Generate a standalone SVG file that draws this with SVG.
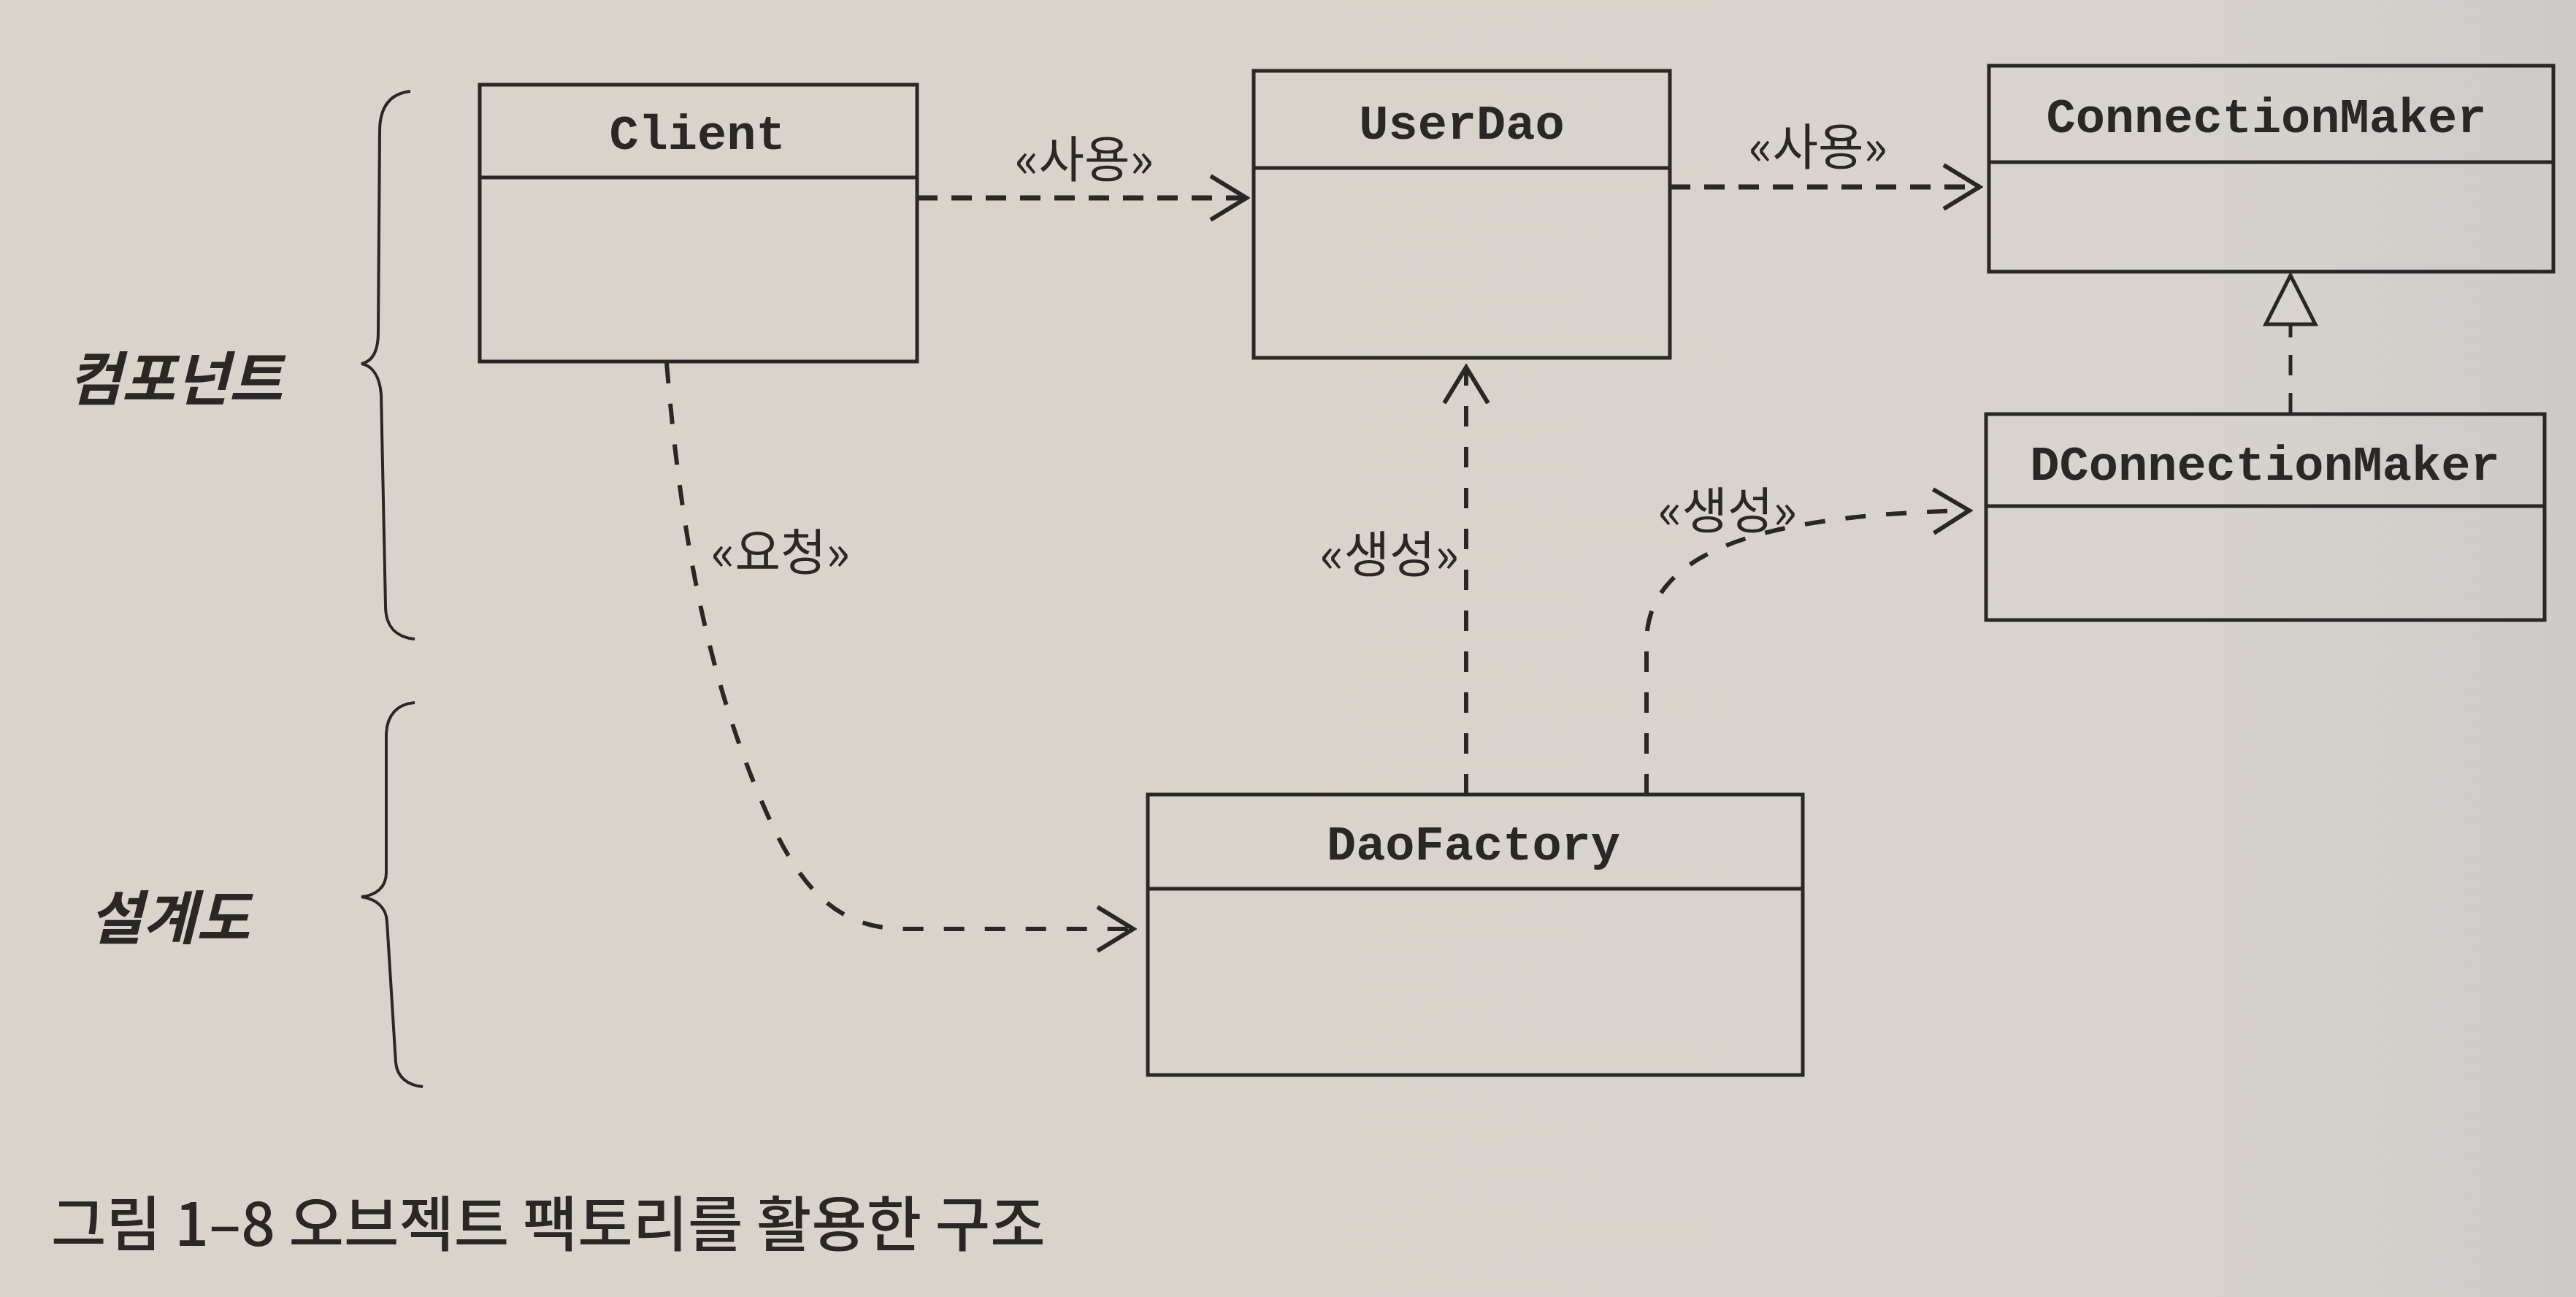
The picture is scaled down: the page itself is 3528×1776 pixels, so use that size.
<svg xmlns="http://www.w3.org/2000/svg" width="3528" height="1776" viewBox="0 0 3528 1776">
<defs>
<linearGradient id="bg" x1="0" y1="0" x2="1" y2="0">
<stop offset="0" stop-color="#d9d3cb"/>
<stop offset="0.85" stop-color="#d8d3cc"/>
<stop offset="1" stop-color="#cdcbc9"/>
</linearGradient>
<marker id="open" viewBox="0 0 60 70" refX="56" refY="35" markerWidth="60" markerHeight="70" markerUnits="userSpaceOnUse" orient="auto">
<path d="M6,5 L55,35 L6,65" fill="none" stroke="#2b2724" stroke-width="6" stroke-linejoin="miter"/>
</marker>
</defs>
<style>
.box{fill:none;stroke:#2b2724;stroke-width:5}
.cls{font-family:"Liberation Mono","DejaVu Sans Mono",monospace;font-weight:bold;font-size:67px;fill:#2b2724;text-anchor:middle}
.lbl{font-family:"Noto Sans CJK KR","Noto Sans",sans-serif;font-size:68px;fill:#2b2724;text-anchor:middle}
.side{font-family:"Noto Sans CJK KR","Noto Sans",sans-serif;font-size:80px;font-weight:bold;font-style:italic;fill:#2b2724;text-anchor:middle}
.cap{font-family:"Noto Sans CJK KR","Noto Sans",sans-serif;font-size:82px;font-weight:500;fill:#2b2724}
.dh{fill:none;stroke:#2b2724;stroke-width:7;stroke-dasharray:28 19}
.dv{fill:none;stroke:#2b2724;stroke-width:6;stroke-dasharray:28 28}
.brace{fill:none;stroke:#2b2724;stroke-width:4}
</style>
<rect x="0" y="0" width="3528" height="1776" fill="url(#bg)"/>

<g id="client">
<rect class="box" x="657" y="116" width="599" height="379"/>
<line class="box" x1="657" y1="243" x2="1256" y2="243"/>
<text class="cls" x="955" y="204">Client</text>
</g>
<g id="userdao">
<rect class="box" x="1717" y="97" width="570" height="393"/>
<line class="box" x1="1717" y1="230" x2="2287" y2="230"/>
<text class="cls" x="2002" y="190">UserDao</text>
</g>
<g id="connectionmaker">
<rect class="box" x="2724" y="90" width="773" height="282"/>
<line class="box" x1="2724" y1="222" x2="3497" y2="222"/>
<text class="cls" x="3104" y="181">ConnectionMaker</text>
</g>
<g id="dconnectionmaker">
<rect class="box" x="2720" y="567" width="765" height="282"/>
<line class="box" x1="2720" y1="693" x2="3485" y2="693"/>
<text class="cls" x="3102" y="657">DConnectionMaker</text>
</g>
<g id="daofactory">
<rect class="box" x="1572" y="1088" width="897" height="384"/>
<line class="box" x1="1572" y1="1217" x2="2469" y2="1217"/>
<text class="cls" x="2018" y="1177">DaoFactory</text>
</g>

<g id="connectors">
<line class="dh" x1="1256" y1="271" x2="1708" y2="271" marker-end="url(#open)"/>
<line class="dh" x1="2287" y1="256" x2="2712" y2="256" marker-end="url(#open)"/>
<line class="dv" x1="2008" y1="1088" x2="2008" y2="502" marker-end="url(#open)"/>
<path class="dv" d="M913,497 C930,700 960,900 1040,1090 C1090,1210 1140,1272 1240,1272 L1553,1272" marker-end="url(#open)"/>
<path class="dv" d="M2255,1088 L2255,880 C2255,760 2400,705 2698,699" marker-end="url(#open)"/>
<line fill="none" stroke="#2b2724" stroke-width="5" stroke-dasharray="28 24" x1="3137" y1="566" x2="3137" y2="444"/>
<polygon points="3137,377 3103,444 3171,444" fill="#d8d3cc" stroke="#2b2724" stroke-width="5"/>
<text class="lbl" x="1485" y="243">«사용»</text>
<text class="lbl" x="2490" y="226">«사용»</text>
<text class="lbl" x="1069" y="781">«요청»</text>
<text class="lbl" x="1903" y="784">«생성»</text>
<text class="lbl" x="2366" y="724">«생성»</text>
</g>

<g id="braces">
<path class="brace" d="M562,125 C535,128 520,145 520,180 L518,455 C518,480 510,495 495,498 C510,501 520,515 522,540 L528,830 C528,860 545,873 568,875"/>
<path class="brace" d="M568,962 C545,964 530,978 529,1005 L529,1195 C529,1215 515,1226 495,1228 C515,1231 529,1242 530,1262 L542,1455 C544,1475 558,1486 579,1488"/>
<text class="side" x="240" y="548">컴포넌트</text>
<text class="side" x="232" y="1286">설계도</text>
</g>

<text class="cap" x="70" y="1706">그림 1–8 오브젝트 팩토리를 활용한 구조</text>
</svg>
